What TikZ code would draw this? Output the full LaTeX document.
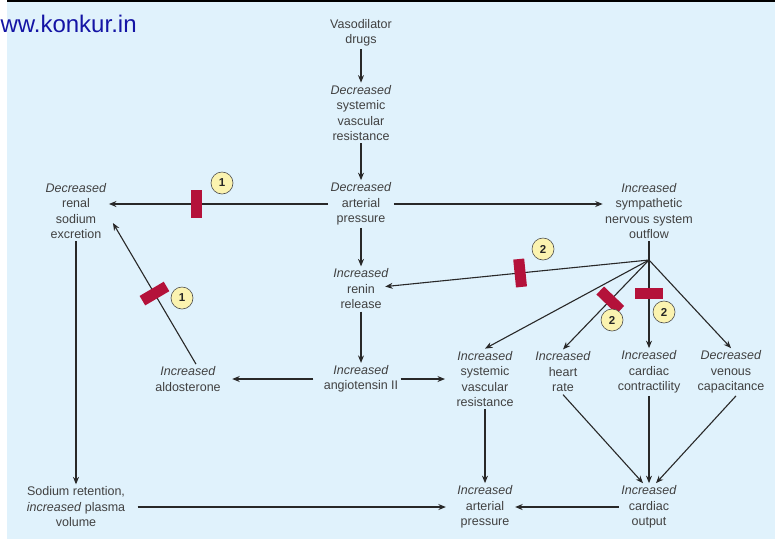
\documentclass[tikz,border=0pt]{standalone}
\usepackage{fontspec}
\setmainfont{Liberation Sans}
\usetikzlibrary{arrows.meta, positioning, calc}
\definecolor{bgblue}{RGB}{224,242,252}
\definecolor{blockred}{RGB}{180,18,58}
\definecolor{numfill}{RGB}{251,243,176}
\definecolor{txtgrey}{RGB}{65,65,65}
\definecolor{linegrey}{RGB}{40,40,40}
\definecolor{siteblue}{RGB}{20,20,165}
\tikzset{
    flowdiagram/.style={x=1pt, y=-1pt, >={Stealth[length=7.5pt, width=6pt]}, line width=1.1pt, color=linegrey},
    box/.style={align=center, inner sep=2pt, text=txtgrey, font=\fontsize{12.5}{15.5}\selectfont},
    % red bar across a connector: the width runs along the line
    blocker/.style={fill=blockred, sloped, minimum width=11pt, minimum height=28pt, inner sep=0pt},
    num/.style={circle, draw=black!70, line width=0.6pt, fill=numfill, text=black!85, minimum size=22pt, inner sep=0pt, font=\fontsize{11.5}{11.5}\bfseries\selectfont},
}

\begin{document}
\begin{tikzpicture}[flowdiagram]
    \useasboundingbox (0,0) rectangle (775,539);
    \fill[bgblue] (7,0) rectangle (775,539);
    \fill[black] (7,0) rectangle (775,1.5);
    \node[anchor=base west, inner sep=0pt, text=siteblue, font=\fontsize{24}{24}\selectfont] (site) at (0,32) {ww.konkur.in};

    % central column
    \node[box] (drugs)  at (361,33)  {Vasodilator\\drugs};
    \node[box] (dsvr)   at (361,113) {\textit{Decreased}\\systemic\\vascular\\resistance};
    \node[box] (dap)    at (361,204) {\textit{Decreased}\\arterial\\pressure};
    \node[box] (renin)  at (361,289) {\textit{Increased}\\renin\\release};
    \node[box] (angio)  at (361,379) {\textit{Increased}\\angiotensin II};

    % left side
    \node[box] (renal)  at (76,211)  {\textit{Decreased}\\renal\\sodium\\excretion};
    \node[box] (aldo)   at (188,379) {\textit{Increased}\\aldosterone};
    \node[box] (sodium) at (76,507)  {Sodium retention,\\\textit{increased} plasma\\volume};

    % right side
    \node[box] (symp)   at (649,211) {\textit{Increased}\\sympathetic\\nervous system\\outflow};
    \coordinate (hub)   at (649,260);
    \node[box] (isvr)   at (485,379) {\textit{Increased}\\systemic\\vascular\\resistance};
    \node[box] (hr)     at (563,372) {\textit{Increased}\\heart\\rate};
    \node[box] (contr)  at (649,372) {\textit{Increased}\\cardiac\\contractility};
    \node[box] (venous) at (731,372) {\textit{Decreased}\\venous\\capacitance};
    \node[box] (iap)    at (485,507) {\textit{Increased}\\arterial\\pressure};
    \node[box] (co)     at (649,507) {\textit{Increased}\\cardiac\\output};

    \draw[->] (drugs) -- (dsvr);
    \draw[->] (dsvr) -- (dap);
    \draw[->] (dap) -- (renin);
    \draw[->] (renin) -- (angio);
    \draw[->] (dap) -- node[blocker, pos=0.6] (bk1) {} (dap -| renal.east);
    \draw[->] (dap) -- (dap -| symp.west);

    \draw (symp) -- (hub);
    \draw[->, shorten >=-6pt] (hub) -- node[blocker, pos=0.5] (bk2) {} (renin);
    \draw[->] (hub) -- (isvr.north);
    \draw[->] (hub) -- node[blocker, pos=0.45] (bk3) {} (hr.north);
    \draw[->] (hub) -- node[blocker, pos=0.38] (bk4) {} (contr.north);
    \draw[->] (hub) -- (venous.north);

    \draw[->, shorten <=8pt, shorten >=9pt] (angio) -- (aldo);
    \draw[->, shorten >=9pt] (angio) -- (isvr);
    \draw[->] ([xshift=8pt]aldo.north) -- node[blocker, pos=0.5] (bk5) {} ([shift={(4,12)}]renal.east);
    \draw[->] (renal) -- (sodium);

    \draw[->, shorten <=10pt, shorten >=9pt] (sodium) -- (iap);
    \draw[->] (isvr) -- (iap);
    \draw[->] (hr.south) -- ([xshift=-6pt]co.north);
    \draw[->] (contr) -- (co);
    \draw[->] ([xshift=5pt]venous.south) -- ([xshift=7pt]co.north);
    \draw[->] (co) -- (iap);

    % drug action sites
    \node[num] (c1) at (222,183) {1};
    \node[num] (c2) at (182,298) {1};
    \node[num] (c3) at (543,249) {2};
    \node[num] (c4) at (612,320) {2};
    \node[num] (c5) at (664,312) {2};
\end{tikzpicture}
\end{document}
